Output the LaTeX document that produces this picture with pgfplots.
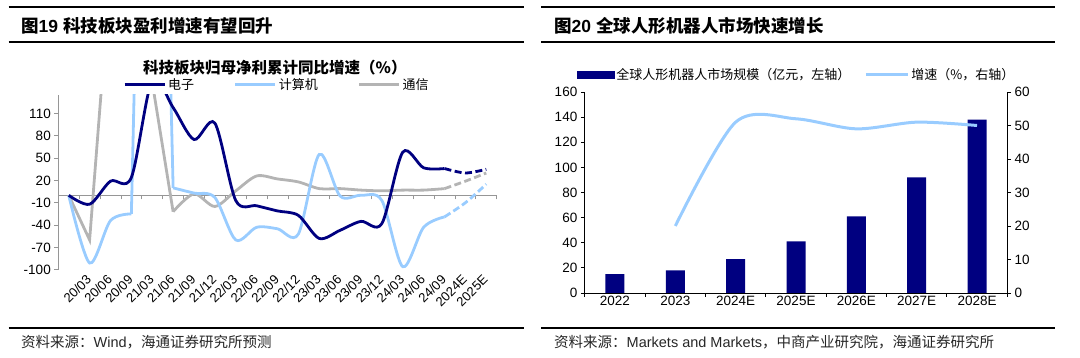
\documentclass[border=0pt]{standalone}
\usepackage{pgfplots}
\usepackage{pgfplotstable}
\pgfplotsset{compat=1.18}
\usepackage{fontspec}
\setmainfont{Liberation Sans}
\newfontfamily\cjk{Noto Sans CJK SC}
\definecolor{navy}{RGB}{0,0,128}
\definecolor{lblue}{RGB}{153,204,255}
\definecolor{lgray}{RGB}{180,180,180}
\definecolor{axgray}{RGB}{150,150,150}
\newcommand\fs[1]{\fontsize{#1}{#1}\selectfont}

% ---- Figure 19 data: cumulative YoY growth of net profit (%) ----
\pgfplotstableread{
x y
0 0
1 -12
2 19
3 24
4 155
5 118
6 75
7 97
8 -7
9 -14
10 -21
11 -27
12 -58
13 -47
14 -35
15 -38
16 58
17 37
18 36
}\elecsolid
\pgfplotstableread{
x y
18 36
19 30
20 35
}\elecdash
\pgfplotstableread{
x y
0 0
1 -91
2 -34
3 -25
}\compA
\pgfplotstableread{
x y
3 -25
4 1200
5 10
}\compB
\pgfplotstableread{
x y
5 10
6 3
7 -3
8 -60
9 -43
10 -45
11 -52
12 55
13 -1
14 0
15 -7
16 -96
17 -43
18 -29
}\compC
\pgfplotstableread{
x y
18 -29
19 -10
20 15
}\compdash
\pgfplotstableread{
x y
0 0
1 -60
2 300
3 300
4 152
5 -22
}\telA
\pgfplotstableread{
x y
5 -22
6 2
7 -15
8 6
9 26
10 22
11 18
12 9
13 9
14 7
15 6
16 7
17 7
18 9
}\telC
\pgfplotstableread{
x y
18 9
19 19
20 30
}\teldash

% ---- Figure 20 data ----
\pgfplotstableread{
x y
0 15
1 18
2 27
3 41
4 61
5 92
6 138
}\robotsize
\pgfplotstableread{
x y
1 20
2 51
3 52
4 49
5 51
6 50
}\robotgrowth

\begin{document}
\begin{tikzpicture}
\useasboundingbox (0,0) rectangle (1080pt,358pt);

% ================= Left panel =================
% zero line with category ticks
\begin{axis}[
  at={(58.3pt,88.3pt)}, anchor=south west, scale only axis,
  width=438.4pt, height=174.8pt,
  xmin=-0.5, xmax=20.5, ymin=-100, ymax=135,
  axis x line=middle, axis y line=none,
  x axis line style={-, draw=axgray, line width=0.8pt},
  xtick={-0.5,0.5,...,20.5}, xticklabels={},
  tick align=outside, major tick length=4pt,
  xtick style={draw=axgray, line width=0.8pt},
]
\addplot[draw=none, forget plot] coordinates {(0,0)};
\end{axis}

\begin{axis}[
  at={(58.3pt,88.3pt)}, anchor=south west, scale only axis,
  width=438.4pt, height=174.8pt,
  xmin=-0.5, xmax=20.5, ymin=-100, ymax=135,
  axis x line*=bottom, axis y line*=left,
  x axis line style={draw=none},
  y axis line style={-, draw=axgray, line width=0.8pt},
  ytick={-100,-70,-40,-10,20,50,80,110},
  ytick style={draw=axgray, line width=0.8pt},
  xtick={0,...,20},
  xticklabels={{},20/03,20/06,20/09,21/03,21/06,21/09,21/12,22/03,22/06,22/09,22/12,23/03,23/06,23/09,23/12,24/03,24/06,24/09,2024E,2025E},
  xtick style={draw=none},
  tick align=outside, major tick length=4pt,
  tick label style={font=\fs{13.5}},
  /pgf/number format/assume math mode=true,
  xticklabel style={yshift=-3pt, rotate=45, anchor=east, inner sep=1pt, font=\fs{13}},
  title={科技板块归母净利累计同比增速（\%）},
  title style={at={(0.494,1.12)}, anchor=center, font=\cjk\bfseries\fs{15.5}},
  legend columns=3,
  legend style={at={(0.1476,1.0606)}, anchor=west, draw=none, fill=none,
    inner sep=0pt, font=\cjk\fs{13},
    /tikz/every even column/.append style={column sep=38pt}},
  legend image code/.code={\draw[#1] (0pt,0pt) -- (40pt,0pt);},
]
\addlegendimage{navy, line width=2.8pt}
\addlegendentry{电子}
\addlegendimage{lblue, line width=2.8pt}
\addlegendentry{计算机}
\addlegendimage{lgray, line width=2.8pt}
\addlegendentry{通信}
% 通信
\addplot[lgray, line width=2.8pt, forget plot] table {\telA};
\addplot[lgray, line width=2.8pt, smooth, forget plot] table {\telC};
\addplot[lgray, line width=2.8pt, smooth, dash pattern=on 7pt off 3.5pt, forget plot] table {\teldash};
% 计算机
\addplot[lblue, line width=2.8pt, smooth, forget plot] table {\compA};
\addplot[lblue, line width=2.8pt, forget plot] table {\compB};
\addplot[lblue, line width=2.8pt, smooth, forget plot] table {\compC};
\addplot[lblue, line width=2.8pt, smooth, dash pattern=on 7pt off 3.5pt, forget plot] table {\compdash};
% 电子
\addplot[navy, line width=2.8pt, smooth, forget plot] table {\elecsolid};
\addplot[navy, line width=2.8pt, smooth, dash pattern=on 7pt off 3.5pt, forget plot] table {\elecdash};
\end{axis}

% ================= Right panel =================
\begin{axis}[
  at={(584.8pt,65pt)}, anchor=south west, scale only axis,
  width=422.4pt, height=201pt,
  xmin=-0.5, xmax=6.5, ymin=0, ymax=160,
  axis x line*=bottom, axis y line*=left,
  axis line style={-, line width=0.8pt},
  ytick={0,20,...,160},
  xtick={-0.5,0.5,...,6.5}, xticklabels={},
  extra x ticks={0,...,6},
  extra x tick labels={2022,2023,2024E,2025E,2026E,2027E,2028E},
  extra x tick style={major tick length=0pt},
  tick align=outside, major tick length=4pt,
  tick style={line width=0.8pt, black},
  tick label style={font=\fs{13.5}},
  /pgf/number format/assume math mode=true,
  legend columns=2,
  legend style={at={(-0.0192,1.087)}, anchor=west, draw=none, fill=none,
    inner sep=0pt, font=\cjk\fs{13},
    /tikz/every even column/.append style={column sep=12pt}},
]
\addlegendimage{legend image code/.code={\fill[navy] (0pt,-3.5pt) rectangle (37pt,3.5pt);}}
\addlegendentry{全球人形机器人市场规模（亿元，左轴）}
\addlegendimage{legend image code/.code={\draw[lblue, line width=3pt] (0pt,0pt) -- (42pt,0pt);}}
\addlegendentry{增速（\%，右轴）}
\addplot[ybar, bar width=19pt, fill=navy, draw=none, forget plot] table {\robotsize};
\end{axis}

\begin{axis}[
  at={(584.8pt,65pt)}, anchor=south west, scale only axis,
  width=422.4pt, height=201pt,
  xmin=-0.5, xmax=6.5, ymin=0, ymax=60,
  axis x line=none, axis y line*=right,
  axis line style={-, line width=0.8pt},
  ytick={0,10,...,60},
  tick align=outside, major tick length=4pt,
  tick style={line width=0.8pt, black},
  tick label style={font=\fs{13.5}},
  /pgf/number format/assume math mode=true,
]
\addplot[lblue, line width=3pt, smooth] table {\robotgrowth};
\end{axis}

% ================= Frames, titles, sources =================
\draw[line width=1.8pt] (8.6pt,351.1pt) -- (524pt,351.1pt);
\draw[line width=1.8pt] (8.6pt,316pt) -- (524pt,316pt);
\draw[line width=1.8pt] (8.6pt,30pt) -- (524pt,30pt);
\draw[line width=1.8pt] (541pt,351.1pt) -- (1055pt,351.1pt);
\draw[line width=1.8pt] (541pt,316pt) -- (1055pt,316pt);
\draw[line width=1.8pt] (541pt,30pt) -- (1055pt,30pt);

\node[anchor=west, inner sep=0pt] at (21pt,332pt)
  {\fs{17.5}\bfseries{\cjk 图}19 {\cjk 科技板块盈利增速有望回升}};
\node[anchor=west, inner sep=0pt] at (554pt,332pt)
  {\fs{17.5}\bfseries{\cjk 图}20 {\cjk 全球人形机器人市场快速增长}};

\node[anchor=west, inner sep=0pt, text=black!85] at (21pt,16pt)
  {\fs{14.5}{\cjk 资料来源：}Wind{\cjk ，海通证券研究所预测}};
\node[anchor=west, inner sep=0pt, text=black!85] at (554pt,16pt)
  {\fs{14.5}{\cjk 资料来源：}Markets and Markets{\cjk ，中商产业研究院，海通证券研究所}};
\end{tikzpicture}
\end{document}
